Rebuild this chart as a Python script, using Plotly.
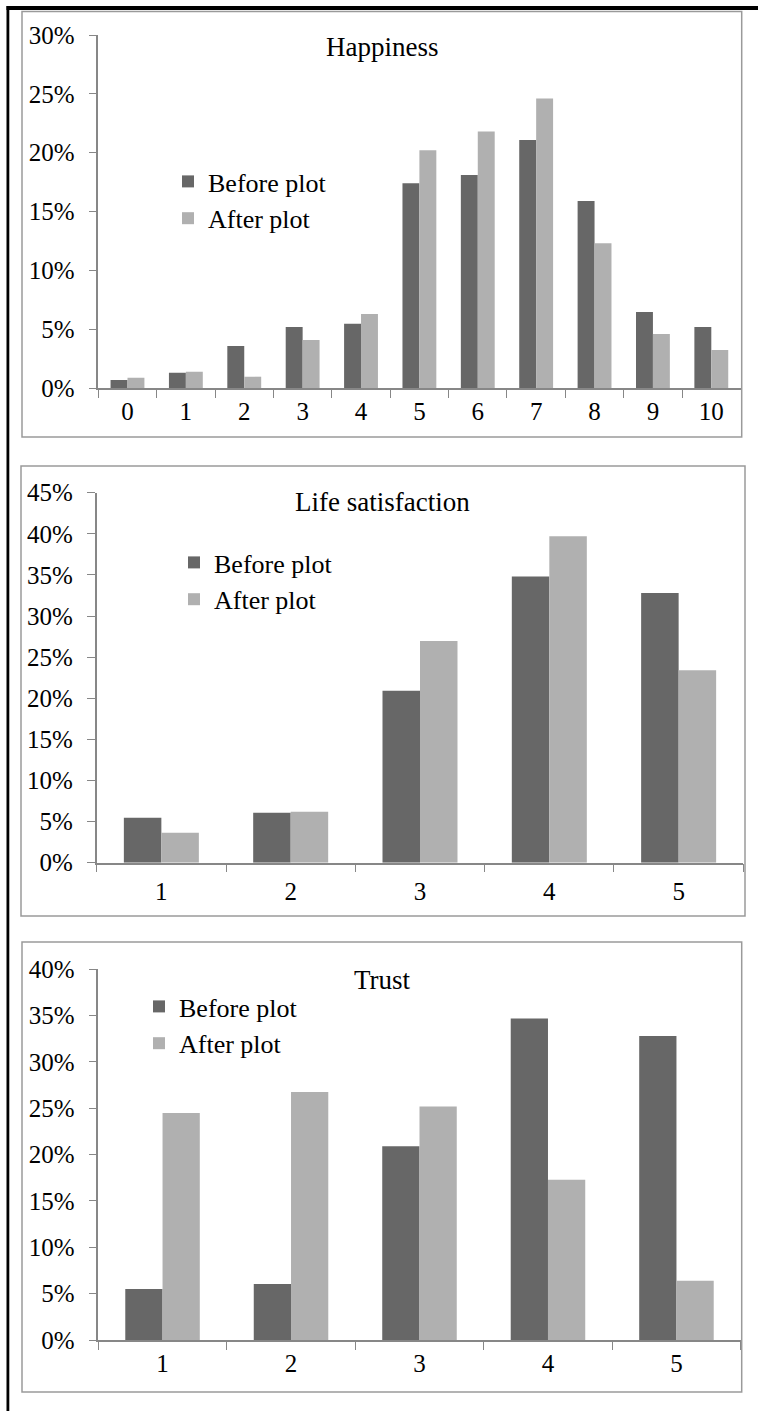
import plotly.graph_objects as go

W, H = 758, 1411

# ---------------- data ----------------
happy_cats = ["0", "1", "2", "3", "4", "5", "6", "7", "8", "9", "10"]
happy_before = [0.0068, 0.013, 0.0357, 0.0518, 0.0546, 0.174, 0.181, 0.2107, 0.159, 0.0646, 0.0518]
happy_after = [0.0088, 0.0139, 0.0096, 0.0408, 0.0629, 0.202, 0.218, 0.246, 0.123, 0.0459, 0.0323]

life_cats = ["1", "2", "3", "4", "5"]
life_before = [0.0547, 0.0608, 0.209, 0.348, 0.328]
life_after = [0.0365, 0.062, 0.2697, 0.397, 0.234]

trust_cats = ["1", "2", "3", "4", "5"]
trust_before = [0.055, 0.0604, 0.209, 0.347, 0.328]
trust_after = [0.245, 0.2675, 0.252, 0.173, 0.064]

titles = ["Happiness", "Life satisfaction", "Trust"]
series_names = ["Before plot", "After plot"]

# ---------------- style ----------------
C_BEFORE = "#676767"
C_AFTER = "#b0b0b0"
AXIS_C = "#878787"
FONT = "Liberation Serif"


def px(x):
    return x / W


def py(y):
    return 1 - y / H


fig = go.Figure()

panels = [
    dict(cats=happy_cats, b=happy_before, a=happy_after, ymax=0.30,
         xd=(98.3, 740.5), yd=(35, 388), title_y=47, leg=(168, 200),
         box=(22, 11.5, 741.7, 437), xstand=0),
    dict(cats=life_cats, b=life_before, a=life_after, ymax=0.45,
         xd=(96.7, 743.3), yd=(492.7, 862.7), title_y=501.7, leg=(174, 581),
         box=(21, 466, 745, 916), xstand=6),
    dict(cats=trust_cats, b=trust_before, a=trust_after, ymax=0.40,
         xd=(98.3, 740.7), yd=(969.3, 1340), title_y=980, leg=(139, 1025),
         box=(22, 942, 741.7, 1392), xstand=0),
]

shapes = []
annotations = []
layout_axes = {}

for i, p in enumerate(panels, start=1):
    sfx = "" if i == 1 else str(i)
    leg_name = "legend" if i == 1 else f"legend{i}"
    fig.add_trace(go.Bar(x=p["cats"], y=p["b"], name=series_names[0],
                         marker=dict(color=C_BEFORE, line=dict(width=0)),
                         xaxis=f"x{sfx}", yaxis=f"y{sfx}", legend=leg_name))
    fig.add_trace(go.Bar(x=p["cats"], y=p["a"], name=series_names[1],
                         marker=dict(color=C_AFTER, line=dict(width=0)),
                         xaxis=f"x{sfx}", yaxis=f"y{sfx}", legend=leg_name))
    layout_axes[f"xaxis{sfx}"] = dict(
        domain=[px(p["xd"][0]), px(p["xd"][1])], anchor=f"y{sfx}",
        type="category", showline=True, linecolor=AXIS_C, linewidth=1.5,
        ticks="outside", ticklen=8, tickcolor=AXIS_C, tickwidth=1.2,
        tickson="boundaries", showgrid=False, zeroline=False,
        tickfont=dict(family=FONT, size=25, color="black"),
        ticklabelstandoff=p["xstand"],
        fixedrange=True, automargin=False,
    )
    layout_axes[f"yaxis{sfx}"] = dict(
        domain=[py(p["yd"][1]), py(p["yd"][0])], anchor=f"x{sfx}",
        range=[0, p["ymax"]], dtick=0.05, tickformat=".0%",
        showline=True, linecolor=AXIS_C, linewidth=1.5,
        ticks="outside", ticklen=8, tickcolor=AXIS_C, tickwidth=1.2,
        showgrid=False, zeroline=False,
        tickfont=dict(family=FONT, size=25, color="black"),
        ticklabelstandoff=9,
        fixedrange=True, automargin=False,
    )
    layout_axes[leg_name] = dict(
        x=px(p["leg"][0]), y=py(p["leg"][1]), xanchor="left", yanchor="middle",
        bgcolor="rgba(0,0,0,0)", borderwidth=0,
        font=dict(family=FONT, size=26, color="black"),
        itemclick=False, itemdoubleclick=False,
    )
    annotations.append(dict(
        text=titles[i - 1], x=px(382), y=py(p["title_y"]), xref="paper", yref="paper",
        xanchor="center", yanchor="middle", showarrow=False,
        font=dict(family=FONT, size=27, color="black"),
    ))
    x0, y0, x1, y1 = p["box"]
    shapes.append(dict(type="rect", xref="paper", yref="paper",
                       x0=px(x0), x1=px(x1), y0=py(y1), y1=py(y0),
                       line=dict(color="#9a9a9a", width=1.5), layer="below"))

# outer black table border (left + top), drawn as thin filled strips
shapes.append(dict(type="rect", xref="paper", yref="paper",
                   x0=px(6.5), x1=px(9.3), y0=0, y1=py(6),
                   fillcolor="black", line=dict(width=0), layer="above"))
shapes.append(dict(type="rect", xref="paper", yref="paper",
                   x0=px(6.5), x1=1, y0=py(10), y1=py(6),
                   fillcolor="black", line=dict(width=0), layer="above"))

fig.update_layout(
    width=W, height=H,
    margin=dict(l=0, r=0, t=0, b=0, pad=0, autoexpand=False),
    paper_bgcolor="white", plot_bgcolor="white",
    barmode="group", bargap=0.42, bargroupgap=0,
    showlegend=True,
    shapes=shapes, annotations=annotations,
    **layout_axes,
)

fig.write_html("out.html",
               config={"displayModeBar": False},
               post_script="document.body.style.margin='0';document.body.style.overflow='hidden';")
